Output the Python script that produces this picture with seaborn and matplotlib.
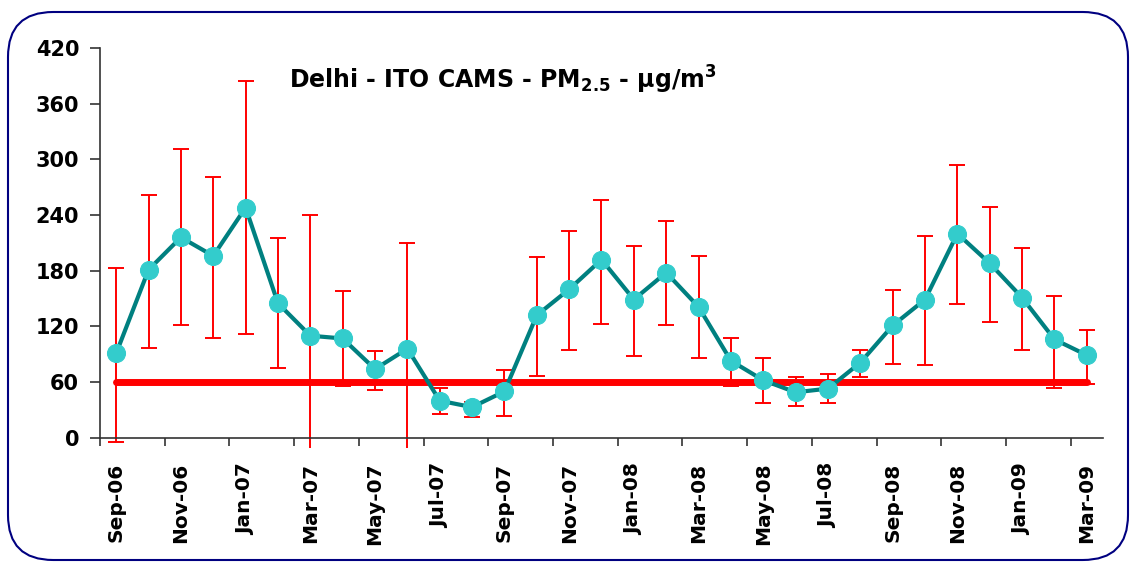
import matplotlib
matplotlib.use("Agg")
import matplotlib.pyplot as plt
import seaborn as sns
import pandas as pd
import numpy as np
from matplotlib.patches import FancyBboxPatch
from matplotlib.ticker import FixedLocator

months = ["Sep-06", "Oct-06", "Nov-06", "Dec-06", "Jan-07", "Feb-07", "Mar-07", "Apr-07",
          "May-07", "Jun-07", "Jul-07", "Aug-07", "Sep-07", "Oct-07", "Nov-07", "Dec-07",
          "Jan-08", "Feb-08", "Mar-08", "Apr-08", "May-08", "Jun-08", "Jul-08", "Aug-08",
          "Sep-08", "Oct-08", "Nov-08", "Dec-08", "Jan-09", "Feb-09", "Mar-09"]
pm25_mean = [91, 181, 216, 196, 248, 145, 110, 107, 74, 96, 40, 33, 50, 132, 160, 192,
             149, 178, 141, 83, 62, 49, 53, 81, 121, 149, 220, 188, 151, 106, 89]
err_high = [183, 262, 311, 281, 384, 215, 240, 158, 94, 210, 54, 39, 73, 195, 223, 256,
            207, 234, 196, 107, 86, 65, 69, 95, 159, 217, 294, 249, 204, 153, 116]
err_low = [-4, 97, 121, 108, 112, 75, -30, 56, 52, -30, 26, 22, 24, 67, 95, 123,
           88, 122, 86, 56, 37, 34, 37, 65, 80, 78, 144, 125, 95, 54, 58]
standard = [60] * len(months)
y_ticks = [0, 60, 120, 180, 240, 300, 360, 420]
x_labels = months[::2]

df = pd.DataFrame({"idx": np.arange(len(months)), "month": months, "mean": pm25_mean,
                   "hi": err_high, "lo": err_low, "std": standard})

sns.set_theme(style="white")
plt.rcParams['font.family'] = ['DejaVu Sans']
plt.rcParams['text.color'] = 'black'
plt.rcParams['xtick.color'] = 'black'
plt.rcParams['ytick.color'] = 'black'

fig = plt.figure(figsize=(11.3, 5.63), dpi=100)
fig.patch.set_facecolor("white")
border = FancyBboxPatch((8 / 1130, 3 / 563), 1120 / 1130, 548 / 563,
                        boxstyle="round,pad=0,rounding_size=0.04",
                        transform=fig.transFigure, fill=False,
                        edgecolor="#000080", linewidth=1.5, mutation_aspect=2.0)
fig.patches.append(border)

ax = fig.add_axes([100 / 1130, (563 - 448) / 563, 1003 / 1130, 400 / 563])

# error bars
yerr = np.array([df["mean"] - df["lo"], df["hi"] - df["mean"]])
ax.errorbar(df["idx"], df["mean"], yerr=yerr, fmt="none", ecolor="#FF0000",
            elinewidth=1.4, capsize=6, capthick=1.4, zorder=2)
# standard line
sns.lineplot(data=df, x="idx", y="std", ax=ax, color="#FF0000", linewidth=5, zorder=3)
# mean series
sns.lineplot(data=df, x="idx", y="mean", ax=ax, color="#008080", linewidth=3,
             marker="o", markersize=13, markerfacecolor="#33CCCC",
             markeredgecolor="#33CCCC", zorder=4)

ax.set_xlim(-0.5, 30.5)
ax.set_ylim(-11, 420)
ax.spines['bottom'].set_position(('data', 0))
ax.spines['left'].set_bounds(0, 420)
ax.spines['top'].set_visible(False)
ax.spines['right'].set_visible(False)
for s in ['left', 'bottom']:
    ax.spines[s].set_color("#333333")
    ax.spines[s].set_linewidth(1.2)

ax.set_yticks(y_ticks)
ax.set_yticklabels([str(v) for v in y_ticks], fontsize=15, fontweight="bold", color="black")
ax.tick_params(axis='y', direction='out', length=7, width=1.2, color="#333333", pad=8, left=True)

ax.xaxis.set_major_locator(FixedLocator(np.arange(-0.5, 31, 2)))
ax.set_xticklabels([])
ax.set_xticks(np.arange(0, 31, 2), minor=True)
ax.set_xticklabels(x_labels, minor=True, rotation=90, fontsize=14.5, fontweight="bold", color="black")
ax.tick_params(axis='x', which='major', direction='out', length=6, width=1.2,
               color="#333333", bottom=True)
ax.tick_params(axis='x', which='minor', length=0, pad=18, bottom=True)
ax.set_xlabel("")
ax.set_ylabel("")
ax.grid(False)

fig.text(503 / 1130, 1 - 80 / 563, r"Delhi - ITO CAMS - PM$_{\mathbf{2.5}}$ - $\mathbf{\mu}$g/m$^{\mathbf{3}}$",
         ha="center", va="center", fontsize=17, fontweight="bold", color="black")

fig.savefig("out.png", dpi=100, facecolor="white")
